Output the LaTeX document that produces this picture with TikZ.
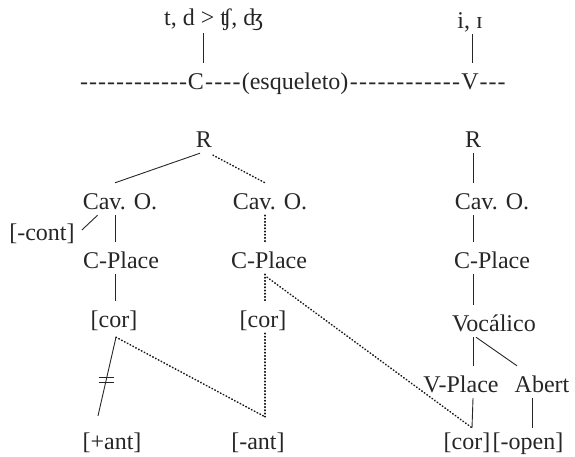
\documentclass[tikz,border=0pt]{standalone}
\usepackage{fontspec}
\setmainfont{Liberation Serif}[Ligatures=TeXOff]
\usepackage{tikz}
\usetikzlibrary{positioning,calc}

\newcommand\hyphenfill[1]{\hbox to #1{\xleaders\hbox to 9pt{\hss-\hss}\hfill}}

\begin{document}
\begin{tikzpicture}[x=1pt,y=-1pt,
  lbl/.style={inner xsep=0pt,inner ysep=2pt,text height=24pt,text depth=4pt,
    font=\fontsize{24}{28}\selectfont,text=black!85},
  solidline/.style={line width=0.9pt,draw=black!85},
  dotline/.style={line width=1.6pt,draw=black!90,line cap=round,dash pattern=on 0.6pt off 2.6pt}]
  \useasboundingbox (0,0) rectangle (575,456); % 画像の大きさ

  % 骨格の行
  \node[lbl,anchor=base] (tdi) at (214,25) {t, d > ʧ, ʤ}; % 子音の変化
  \node[lbl,anchor=base] (ii) at (470,28) {i, ɪ}; % 母音
  \node[lbl,anchor=base] (C) at (196,89) {C}; % 子音スロット
  \node[lbl,anchor=base] (V) at (470,89) {V}; % 母音スロット
  \node[lbl,anchor=base east] (hy1) at (C.base west) {\hyphenfill{108pt}};
  \node[lbl,anchor=base west] (hy2) at (C.base east) {\hyphenfill{37pt}};
  \node[lbl,anchor=base west] (esq) at (hy2.base east) {(esqueleto)};
  \node[lbl,anchor=base east] (hy3) at (V.base west) {\hyphenfill{112pt}};
  \node[lbl,anchor=base west] (hy4) at (V.base east) {\hyphenfill{27pt}};
  \draw[solidline] ($(C.north)+(7,0)$) -- ($(C.north |- tdi.south)+(7,2)$); % C の上の線
  \draw[solidline] ($(V.north)+(2,0)$) -- ($(V.north |- ii.south)+(2,0)$); % V の上の線

  % 左の木（子音）
  \node[lbl,anchor=base] (lR) at (204,147) {R};
  \node[lbl,anchor=base] (lcav) at (120,209) {Cav. O.};
  \node[lbl,anchor=base] (mcav) at (270,209) {Cav. O.};
  \node[lbl,anchor=base] (cont) at (42,240) {[-cont]};
  \node[lbl,anchor=base] (lcpl) at (121,268) {C-Place};
  \node[lbl,anchor=base] (mcpl) at (269,268) {C-Place};
  \node[lbl,anchor=base] (lcor) at (114,327) {[cor]};
  \node[lbl,anchor=base] (mcor) at (263,327) {[cor]};
  \node[lbl,anchor=base] (pant) at (112,449) {[+ant]};
  \node[lbl,anchor=base] (mant) at (258,449) {[-ant]};

  % 右の木（母音）
  \node[lbl,anchor=base] (rR) at (473,147) {R};
  \node[lbl,anchor=base] (rcav) at (492,209) {Cav. O.};
  \node[lbl,anchor=base] (rcpl) at (492,268) {C-Place};
  \node[lbl,anchor=base] (voc) at (494,331) {Vocálico};
  \node[lbl,anchor=base] (vpl) at (461,392) {V-Place};
  \node[lbl,anchor=base] (abert) at (542,392) {Abert};
  \node[lbl,anchor=base] (rcor) at (467,449) {[cor]};
  \node[lbl,anchor=base] (open) at (528,449) {[-open]};

  \coordinate (lj) at ([xshift=2pt,yshift=-4pt]lcor.south); % 左 [cor] の下端
  \coordinate (pj) at ([xshift=-14pt,yshift=7pt]pant.north); % [+ant] の上端
  \coordinate (mj) at ([xshift=7pt,yshift=6pt]mant.north); % [-ant] の上端
  \coordinate (rj) at ([xshift=5pt,yshift=-5pt]rcor.north); % 右 [cor] の上端

  % 左の木の線
  \draw[solidline] ([xshift=-4pt]lR.south) -- ([xshift=-5pt]lcav.north);
  \draw[dotline] ([xshift=9pt,yshift=-2pt]lR.south) -- ([xshift=-5pt]mcav.north); % 新しい結合
  \draw[solidline] ([xshift=7pt]cont.east) -- ([xshift=15pt]lcav.south west);
  \draw[solidline] ([xshift=-5pt]lcav.south) -- ([xshift=-6pt]lcpl.north);
  \draw[solidline] ([xshift=-6pt]lcpl.south) -- ([xshift=1pt]lcor.north);
  \draw[solidline] (lj) -- (pj); % 切断される線
  \draw[solidline] ($(lj)!0.55!(pj)+(-7.5,-2.5)$) -- ++(15,0)
                   ($(lj)!0.55!(pj)+(-7.5,2.5)$) -- ++(15,0); % 切断の印
  \draw[dotline] (lj) -- (mj);
  \draw[dotline] ([xshift=-5pt]mcav.south) -- ([xshift=-4pt]mcpl.north);
  \draw[dotline] ([xshift=-4pt]mcpl.south) -- ([xshift=2pt]mcor.north);
  \draw[dotline] ([xshift=2pt]mcor.south) -- (mj);
  \draw[dotline] ([xshift=-2pt,yshift=-3pt]mcpl.south) -- (rj); % 母音の [cor] への拡張

  % 右の木の線
  \draw[solidline] (rR.south) -- (rR.south |- rcav.north);
  \draw[solidline] (rR.south |- rcav.south) -- (rR.south |- rcpl.north);
  \draw[solidline] (rR.south |- rcpl.south) -- (rR.south |- voc.north);
  \draw[solidline] (rR.south |- voc.south) -- (rR.south |- vpl.north);
  \draw[solidline] ($(rR.south |- voc.south)+(3,0)$) -- ([xshift=-25pt]abert.north);
  \draw[solidline] (rR.south |- vpl.south) -- (rj);
  \draw[solidline] ([xshift=-10pt]abert.south) -- ($(abert.south |- open.north)+(-10,5)$);
\end{tikzpicture}
\end{document}
